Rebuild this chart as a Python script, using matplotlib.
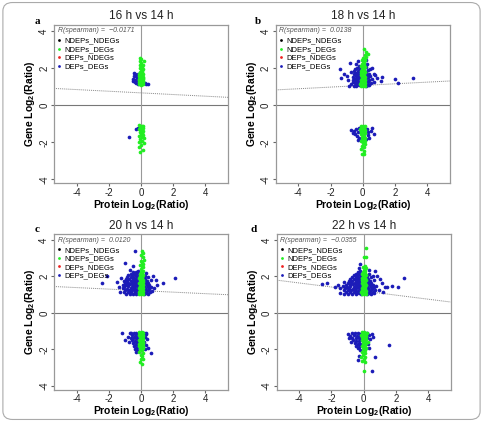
import matplotlib
matplotlib.use("Agg")
import matplotlib.pyplot as plt
from matplotlib.lines import Line2D
from matplotlib.patches import FancyBboxPatch

plt.rcParams["font.family"] = ["Liberation Sans", "DejaVu Sans"]
plt.rcParams["mathtext.fontset"] = "custom"
plt.rcParams["mathtext.rm"] = "Liberation Sans"
plt.rcParams["mathtext.bf"] = "Liberation Sans:bold"

# panel titles, letters and spearman values
titles = ["16 h vs 14 h", "18 h vs 14 h", "20 h vs 14 h", "22 h vs 14 h"]
letters = ["a", "b", "c", "d"]
spearman = ["\u22120.0171", "0.0138", "0.0120", "\u22120.0355"]

# dotted fit line: value at x=-5.4 and at x=5.4
fit_left = [0.90, 0.82, 1.45, 1.80]
fit_right = [0.42, 1.30, 1.00, 0.60]

# ---- panel a (16 h) ----
a_green = [(-0.10,1.12),(0.02,1.10),(0.12,1.14),(-0.05,1.18),(0.08,1.20),(-0.14,1.24),(0.00,1.26),
           (0.14,1.28),(-0.08,1.31),(0.05,1.33),(-0.02,1.38),(0.10,1.40),(-0.12,1.42),(0.03,1.46),
           (-0.06,1.50),(0.12,1.52),(0.00,1.55),(-0.10,1.58),(0.07,1.60),(-0.03,1.64),(0.13,1.66),
           (-0.13,1.70),(0.02,1.72),(0.09,1.78),(-0.07,1.80),(0.04,1.86),(-0.02,1.92),(0.11,1.95),
           (-0.09,2.00),(0.05,2.08),(-0.04,2.15),(0.15,2.18),(0.00,2.28),(0.20,2.35),(-0.05,2.40),
           (0.02,2.50),(-0.08,2.55),(0.06,1.12),(-0.15,1.35),(0.15,1.45),(-0.01,1.68),(0.10,1.25),
           (-0.10,-1.05),(0.05,-1.10),(0.15,-1.15),(-0.05,-1.20),(0.10,-1.25),(-0.15,-1.28),(0.00,-1.32),
           (0.14,-1.38),(-0.08,-1.42),(0.06,-1.48),(-0.02,-1.55),(0.12,-1.60),(-0.12,-1.65),(0.03,-1.72),
           (0.18,-1.78),(-0.06,-1.85),(0.08,-1.92),(-0.14,-2.00),(0.20,-2.05),(0.02,-2.15),(-0.10,-2.25),
           (0.10,-2.40),(-0.05,-2.50),(0.05,-1.50)]
a_blue = [(-0.45,1.72),(-0.38,1.65),(-0.30,1.58),(-0.42,1.55),(-0.25,1.50),(-0.48,1.40),(-0.35,1.35),
          (-0.52,1.28),(-0.40,1.22),(-0.30,1.18),(-0.20,1.12),(-0.28,1.45),(0.25,1.20),(0.32,1.15),
          (0.42,1.12),(-0.18,1.68),(-0.22,1.30),(-0.30,-1.30),(-0.75,-1.70),(-0.20,-1.25)]

# ---- panel b (18 h) ----
b_green = [(-0.12,1.02),(0.00,1.04),(0.12,1.03),(-0.06,1.10),(0.07,1.12),(-0.14,1.16),(0.02,1.18),
           (0.14,1.20),(-0.09,1.24),(0.05,1.27),(-0.02,1.30),(0.11,1.33),(-0.13,1.36),(0.00,1.40),
           (0.08,1.44),(-0.07,1.47),(0.13,1.50),(-0.03,1.53),(0.04,1.58),(-0.11,1.60),(0.10,1.63),
           (-0.01,1.67),(0.06,1.72),(-0.08,1.75),(0.14,1.78),(0.00,1.82),(-0.12,1.86),(0.09,1.90),
           (-0.04,1.95),(0.03,2.00),(0.12,2.05),(-0.09,2.10),(0.05,2.15),(-0.02,2.22),(0.10,2.28),
           (0.02,2.35),(0.16,2.42),(0.08,2.50),(0.22,2.60),(0.12,2.70),(0.30,2.78),(0.18,2.88),
           (0.10,3.02),(-0.05,2.45),(0.00,2.55),
           (-0.12,-1.12),(0.02,-1.10),(0.14,-1.15),(-0.06,-1.20),(0.08,-1.22),(-0.15,-1.28),(0.00,-1.30),
           (0.12,-1.34),(-0.09,-1.38),(0.05,-1.42),(-0.02,-1.48),(0.14,-1.50),(-0.13,-1.55),(0.02,-1.60),
           (0.10,-1.66),(-0.07,-1.70),(0.15,-1.75),(-0.03,-1.80),(0.06,-1.88),(-0.10,-1.95),(0.02,-2.02),
           (0.12,-2.10),(-0.06,-2.18),(0.05,-2.25),(-0.10,-2.35),(0.10,-2.48),(-0.05,-2.62),(0.08,-2.65),
           (-0.12,-1.45),(0.13,-1.95)]
b_blue = [(-0.55,1.05),(-0.40,1.02),(-0.25,1.06),(-0.18,1.12),(-0.35,1.14),(-0.50,1.18),(-0.62,1.22),
          (-0.28,1.22),(-0.45,1.28),(-0.20,1.30),(-0.58,1.35),(-0.33,1.36),(-0.48,1.42),(-0.22,1.44),
          (-0.38,1.48),(-0.60,1.52),(-0.26,1.55),(-0.44,1.58),(-0.18,1.62),(-0.52,1.65),(-0.32,1.68),
          (-0.40,1.75),(-0.22,1.78),(-0.55,1.82),(-0.30,1.86),(-0.45,1.92),(-0.20,1.95),(-0.35,2.02),
          (-0.25,2.10),(-0.40,2.20),(-0.30,2.35),
          (0.20,1.05),(0.30,1.10),(0.42,1.08),(0.22,1.18),(0.35,1.25),(0.50,1.20),(0.25,1.32),
          (0.40,1.38),(0.22,1.45),(0.32,1.52),(0.48,1.55),(0.25,1.62),(0.38,1.70),(0.22,1.78),
          (0.30,1.88),(0.45,1.95),(0.20,2.05),(0.28,2.20),(0.20,2.45),
          (-1.40,1.95),(-1.38,1.45),(-1.15,1.70),(-0.80,2.25),(-0.90,1.35),(-1.00,1.55),(-0.75,1.80),
          (-0.70,1.15),(0.55,1.98),(0.68,1.70),(0.78,1.60),(0.72,1.25),(1.20,1.50),(1.15,1.32),
          (0.90,1.45),(2.00,1.40),(2.20,1.18),(3.10,1.48),(0.60,1.40),(-0.85,1.05),
          (-0.75,-1.35),(-0.55,-1.40),(-0.40,-1.30),(-0.30,-1.45),(-0.45,-1.55),(-0.60,-1.50),
          (-0.25,-1.25),(-0.35,-1.65),(-0.22,-1.75),(0.25,-1.30),(0.35,-1.45),(0.50,-1.40),
          (0.30,-1.60),(0.70,-1.58),(0.40,-1.75),(0.22,-1.85),(-0.28,-1.90),(0.55,-1.22)]

# ---- panel c (20 h) ----
c_green = [(-0.12,1.02),(0.02,1.05),(0.13,1.03),(-0.05,1.10),(0.09,1.12),(-0.14,1.16),(0.00,1.18),
           (0.14,1.22),(-0.08,1.25),(0.05,1.28),(-0.02,1.32),(0.11,1.35),(-0.13,1.38),(0.01,1.42),
           (0.08,1.46),(-0.07,1.50),(0.13,1.53),(-0.03,1.57),(0.05,1.61),(-0.11,1.64),(0.10,1.68),
           (-0.01,1.72),(0.06,1.76),(-0.09,1.80),(0.14,1.83),(0.00,1.87),(-0.12,1.91),(0.09,1.95),
           (-0.04,2.00),(0.03,2.05),(0.12,2.10),(-0.09,2.14),(0.05,2.20),(-0.02,2.26),(0.10,2.32),
           (0.02,2.40),(0.12,2.50),(0.05,2.60),(0.15,2.70),(0.08,2.80),(0.20,2.92),(0.10,3.05),
           (0.02,3.18),(0.12,3.30),(0.05,3.42),(-0.05,2.65),(0.00,2.85),
           (-0.12,-1.03),(0.03,-1.05),(0.14,-1.08),(-0.05,-1.12),(0.09,-1.15),(-0.15,-1.20),(0.00,-1.22),
           (0.13,-1.27),(-0.09,-1.30),(0.05,-1.34),(-0.02,-1.40),(0.14,-1.42),(-0.13,-1.47),(0.02,-1.52),
           (0.10,-1.57),(-0.07,-1.62),(0.15,-1.66),(-0.03,-1.70),(0.06,-1.76),(-0.10,-1.80),(0.02,-1.86),
           (0.12,-1.92),(-0.06,-1.98),(0.05,-2.05),(-0.10,-2.12),(0.10,-2.20),(-0.03,-2.28),(0.08,-2.38),
           (0.00,-2.50),(0.12,-2.55),(-0.08,-2.70),(0.05,-2.78),(-0.12,-1.72),(0.13,-1.82)]
c_blue = [(-0.95,1.05),(-0.70,1.03),(-0.50,1.06),(-0.30,1.04),(-0.18,1.08),
          (-1.05,1.15),(-0.82,1.14),(-0.60,1.16),(-0.40,1.13),(-0.22,1.17),
          (-1.00,1.26),(-0.75,1.24),(-0.55,1.27),(-0.35,1.25),(-0.17,1.23),
          (-1.10,1.36),(-0.88,1.34),(-0.65,1.37),(-0.45,1.35),(-0.25,1.33),
          (-1.05,1.45),(-0.80,1.46),(-0.58,1.44),(-0.38,1.47),(-0.20,1.45),
          (-1.15,1.56),(-0.92,1.54),(-0.70,1.57),(-0.50,1.55),(-0.30,1.53),(-0.18,1.58),
          (-1.00,1.66),(-0.78,1.64),(-0.58,1.67),(-0.40,1.65),(-0.22,1.63),
          (-1.08,1.75),(-0.85,1.77),(-0.62,1.74),(-0.45,1.76),(-0.28,1.78),
          (-0.95,1.86),(-0.72,1.84),(-0.52,1.87),(-0.35,1.85),(-0.18,1.83),
          (-0.88,1.95),(-0.65,1.97),(-0.45,1.94),(-0.25,1.96),
          (-0.78,2.06),(-0.55,2.04),(-0.35,2.07),(-0.20,2.05),
          (-0.62,2.16),(-0.42,2.14),(-0.25,2.17),(-0.50,2.26),(-0.30,2.24),(-0.18,2.28),
          (0.18,1.05),(0.30,1.08),(0.45,1.04),(0.22,1.15),(0.38,1.18),(0.55,1.14),(0.20,1.26),
          (0.33,1.28),(0.50,1.30),(0.25,1.38),(0.42,1.40),(0.62,1.42),(0.20,1.50),(0.35,1.52),
          (0.52,1.55),(0.28,1.62),(0.45,1.65),(0.20,1.72),(0.38,1.78),(0.60,1.80),(0.25,1.88),
          (0.42,1.95),(0.22,2.05),(0.30,2.20),
          (-2.10,2.05),(-2.40,1.62),(-1.50,1.70),(-1.25,1.90),(-1.35,1.40),(-1.30,1.15),(-1.00,2.72),
          (-0.40,3.42),(-0.50,2.55),(-0.70,2.35),(0.75,2.00),(0.92,1.80),(1.35,1.62),(2.10,1.90),
          (0.80,1.35),(0.70,1.20),(1.00,1.55),
          (-0.60,-1.10),(-0.45,-1.12),(-0.30,-1.08),(-0.20,-1.15),(-0.55,-1.22),(-0.38,-1.25),
          (-0.25,-1.28),(-0.65,-1.35),(-0.48,-1.38),(-0.30,-1.40),(-0.18,-1.45),(-0.55,-1.50),
          (-0.40,-1.55),(-0.25,-1.58),(-0.50,-1.65),(-0.32,-1.70),(-0.20,-1.75),(-0.42,-1.82),
          (-0.28,-1.88),(-0.38,-1.98),(-0.22,-2.05),(-0.30,-2.15),(0.20,-1.10),(0.32,-1.15),
          (0.22,-1.30),(0.35,-1.45),(0.20,-1.60),(0.30,-1.75),(0.42,-1.90),(0.25,-2.00),
          (-1.20,-1.10),(-1.00,-1.48),(-0.80,-1.30),(-0.75,-1.62),(0.60,-2.22),(0.30,-1.12),(-0.70,-1.10)]

# ---- panel d (22 h) ----
d_green = [(-0.12,1.02),(0.02,1.04),(0.13,1.03),(-0.05,1.09),(0.09,1.11),(-0.14,1.15),(0.00,1.17),
           (0.14,1.21),(-0.08,1.24),(0.05,1.27),(-0.02,1.31),(0.11,1.34),(-0.13,1.37),(0.01,1.41),
           (0.08,1.45),(-0.07,1.49),(0.13,1.52),(-0.03,1.56),(0.05,1.60),(-0.11,1.63),(0.10,1.67),
           (-0.01,1.71),(0.06,1.75),(-0.09,1.79),(0.14,1.82),(0.00,1.86),(-0.12,1.90),(0.09,1.94),
           (-0.04,1.99),(0.03,2.04),(0.12,2.09),(-0.09,2.13),(0.05,2.19),(-0.02,2.25),(0.10,2.31),
           (0.02,2.38),(0.13,2.45),(-0.05,2.52),(0.06,2.60),(0.00,3.05),(0.12,3.05),(0.14,3.55),
           (-0.12,-1.03),(0.03,-1.05),(0.14,-1.08),(-0.05,-1.12),(0.09,-1.15),(-0.15,-1.20),(0.00,-1.22),
           (0.13,-1.27),(-0.09,-1.30),(0.05,-1.34),(-0.02,-1.40),(0.14,-1.42),(-0.13,-1.47),(0.02,-1.52),
           (0.10,-1.57),(-0.07,-1.62),(0.15,-1.66),(-0.03,-1.70),(0.06,-1.76),(-0.10,-1.80),(0.02,-1.86),
           (0.12,-1.92),(-0.06,-1.98),(0.05,-2.05),(-0.10,-2.12),(0.10,-2.20),(-0.03,-2.30),(0.08,-2.42),
           (0.00,-2.55),(-0.10,-2.62),(0.05,-2.70),(0.00,-3.18),(0.20,-1.10),(0.25,-1.60),(-0.15,-2.40)]
d_blue = [(-1.20,1.05),(-0.95,1.04),(-0.72,1.06),(-0.50,1.03),(-0.32,1.07),(-0.18,1.05),
          (-1.10,1.15),(-0.85,1.16),(-0.62,1.14),(-0.42,1.17),(-0.25,1.13),
          (-1.25,1.26),(-1.00,1.24),(-0.78,1.27),(-0.55,1.25),(-0.35,1.23),(-0.18,1.27),
          (-1.15,1.35),(-0.90,1.37),(-0.68,1.34),(-0.48,1.36),(-0.28,1.35),
          (-1.30,1.46),(-1.05,1.44),(-0.82,1.47),(-0.60,1.45),(-0.40,1.43),(-0.20,1.46),
          (-1.12,1.56),(-0.88,1.54),(-0.66,1.57),(-0.45,1.55),(-0.28,1.53),
          (-1.00,1.66),(-0.78,1.64),(-0.56,1.67),(-0.36,1.65),(-0.18,1.63),
          (-0.92,1.75),(-0.70,1.77),(-0.50,1.74),(-0.30,1.76),
          (-0.85,1.86),(-0.62,1.84),(-0.42,1.87),(-0.22,1.85),
          (-0.70,1.95),(-0.50,1.97),(-0.32,1.94),(-0.18,1.96),
          (-0.60,2.06),(-0.40,2.04),(-0.25,2.07),(-0.45,2.16),(-0.28,2.14),
          (-0.35,2.26),(-0.20,2.30),(-0.30,2.45),(-0.25,2.70),
          (0.18,1.05),(0.32,1.08),(0.48,1.04),(0.65,1.07),(0.22,1.15),(0.40,1.18),(0.58,1.14),
          (0.20,1.26),(0.35,1.28),(0.52,1.30),(0.72,1.25),(0.25,1.38),(0.45,1.40),(0.65,1.42),
          (0.20,1.50),(0.38,1.52),(0.55,1.55),(0.78,1.50),(0.28,1.62),(0.48,1.65),(0.20,1.72),
          (0.40,1.78),(0.62,1.80),(0.25,1.88),(0.45,1.95),(0.22,2.05),(0.35,2.15),(0.55,2.00),
          (0.30,2.35),
          (-2.60,1.60),(-2.25,1.65),(-1.60,1.52),(-1.45,1.35),(-1.20,1.72),(-1.80,1.40),(-1.50,1.10),
          (0.85,2.05),(1.00,1.85),(1.15,1.62),(1.30,1.45),(1.45,1.40),(1.75,1.50),(2.10,1.42),
          (2.50,1.92),(0.95,1.25),(0.70,2.30),(1.20,1.15),
          (-1.00,-1.15),(-0.75,-1.10),(-0.55,-1.12),(-0.35,-1.08),(-0.20,-1.14),(-0.85,-1.25),
          (-0.62,-1.22),(-0.42,-1.26),(-0.25,-1.24),(-0.90,-1.40),(-0.70,-1.35),(-0.50,-1.38),
          (-0.30,-1.36),(-0.18,-1.42),(-0.65,-1.50),(-0.45,-1.52),(-0.28,-1.55),(-0.55,-1.65),
          (-0.35,-1.68),(-0.20,-1.72),(-0.45,-1.80),(-0.28,-1.85),(-0.38,-1.95),(-0.22,-2.05),
          (-0.30,-2.35),(-0.35,-2.60),(0.20,-1.10),(0.35,-1.20),(0.50,-1.15),(0.22,-1.35),
          (0.40,-1.45),(0.25,-1.70),(0.35,-1.90),(0.70,-2.40),(0.50,-3.18),(1.60,-1.75),
          (-0.80,-1.60),(0.55,-1.30)]

greens = [a_green, b_green, c_green, d_green]
blues = [a_blue, b_blue, c_blue, d_blue]

legend_names = ["NDEPs_NDEGs", "NDEPs_DEGs", "DEPs_NDEGs", "DEPs_DEGs"]
legend_cols = ["black", "#22ee22", "#ee2222", "#1c1cb8"]

GREEN = "#22ee22"
BLUE = "#1c1cb8"

fig = plt.figure(figsize=(4.83, 4.22), dpi=100)

# axes rectangles in figure fractions
rects = [[0.112, 0.566, 0.360, 0.375],
         [0.571, 0.566, 0.360, 0.375],
         [0.112, 0.077, 0.360, 0.368],
         [0.573, 0.077, 0.360, 0.368]]
letter_pos = [(0.077, 0.948), (0.534, 0.948), (0.077, 0.457), (0.526, 0.457)]

for i in range(4):
    ax = fig.add_axes(rects[i])
    ax.set_xlim(-5.4, 5.4)
    ax.set_ylim(-4.2, 4.32)

    ax.axhline(0, color="#777777", lw=0.8, zorder=1)
    ax.axvline(0, color="#999999", lw=0.8, zorder=1)
    ax.plot([-5.4, 5.4], [fit_left[i], fit_right[i]], color="#888888",
            lw=0.7, linestyle=(0, (1, 1)), zorder=1)

    bx = [p[0] for p in blues[i]]
    by = [p[1] for p in blues[i]]
    gx = [p[0] for p in greens[i]]
    gy = [p[1] for p in greens[i]]
    ax.scatter(bx, by, s=7, color=BLUE, linewidths=0, zorder=3)
    ax.scatter(gx, gy, s=7, color=GREEN, linewidths=0, zorder=4)

    for sp in ax.spines.values():
        sp.set_color("#999999")
        sp.set_linewidth(0.9)

    ax.set_xticks([-4, -2, 0, 2, 4])
    ax.set_yticks([-4, -2, 0, 2, 4])
    ax.set_xticklabels(["-4", "-2", "0", "2", "4"])
    ax.set_yticklabels(["-4", "-2", "0", "2", "4"], rotation=90, va="center")
    ax.tick_params(axis="both", length=2.5, width=0.8, color="#666666",
                   labelsize=7, pad=1, labelcolor="#222222")

    ax.set_xlabel(r"Protein Log$_{\mathbf{2}}$(Ratio)", fontsize=7.5,
                  fontweight="bold", labelpad=0)
    ax.set_ylabel(r"Gene Log$_{\mathbf{2}}$(Ratio)", fontsize=7.5,
                  fontweight="bold", labelpad=1.5)
    ax.set_title(titles[i], fontsize=8.5, pad=4, color="#222222")

    ax.text(0.02, 0.985, "R(spearman) =  " + spearman[i], transform=ax.transAxes,
            fontsize=5, style="italic", color="#555555", va="top", ha="left")

    handles = [Line2D([], [], marker="o", linestyle="none", markersize=2,
                      markerfacecolor=c, markeredgewidth=0) for c in legend_cols]
    ax.legend(handles, legend_names, loc="upper left", bbox_to_anchor=(-0.01, 0.95),
              fontsize=5.5, frameon=False, handlelength=0.6, handletextpad=0.4,
              labelspacing=0.15, borderaxespad=0.2)

    fig.text(letter_pos[i][0], letter_pos[i][1], letters[i], fontsize=8,
             fontweight="bold", family="Liberation Serif", va="center", ha="center")

# rounded frame around the whole figure
border = FancyBboxPatch((0.006, 0.006), 0.988, 0.988, boxstyle="round,pad=0,rounding_size=0.02",
                        transform=fig.transFigure, fill=False, edgecolor="#aaaaaa", lw=0.8)
fig.patches.append(border)

fig.savefig("out.png", dpi=100)
